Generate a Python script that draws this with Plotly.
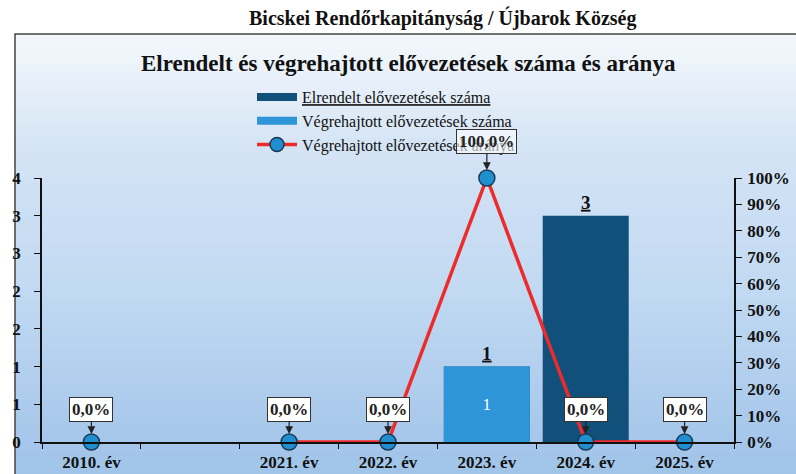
import plotly.graph_objects as go

# ---- data ----
categories = ["2010. év", " ", "2021. év", "2022. év", "2023. év", "2024. év", "2025. év"]
elrendelt = [0, None, 0, 0, 1, 3, 0]
vegrehajtott = [0, None, 0, 0, 1, 0, 0]
arany = [0.0, None, 0.0, 0.0, 1.0, 0.0, 0.0]
left_tickvals = [0, 0.5, 1, 1.5, 2, 2.5, 3, 3.5]
left_ticktext = ["0", "1", "1", "2", "2", "3", "3", "4"]
right_tickvals = [i / 10 for i in range(11)]
right_ticktext = [f"{i*10}%" for i in range(11)]

outer_title = "Bicskei Rendőrkapitányság / Újbarok Község"
chart_title = "Elrendelt és végrehajtott elővezetések száma és aránya"
name_elr = "Elrendelt elővezetések száma"
name_veg = "Végrehajtott elővezetések száma"
name_arany = "Végrehajtott elővezetések aránya"

W, H = 796, 474
ML, MR, MT, MB = 42, 62, 178, 32
PW, PH = W - ML - MR, H - MT - MB

def px(x):
    return (x - ML) / PW

def py(y):
    return (H - MB - y) / PH

SERIF = "Liberation Serif, Times New Roman, serif"
DARK = "#11507b"
LIGHT = "#2e95d8"
RED = "#ee2b2b"
TICKFONT = dict(family=SERIF, size=17, color="#111", weight="bold")

fig = go.Figure()

fig.add_trace(go.Bar(
    x=categories, y=elrendelt, name=name_elr, showlegend=False, legendgroup="elr",
    marker=dict(color=DARK, line=dict(width=0)),
    text=[f"<b><u>{v}</u></b>" if v else "" for v in elrendelt],
    textposition="outside", textfont=dict(family=SERIF, size=19, color="#111"),
    cliponaxis=False, width=0.87, yaxis="y",
))
fig.add_trace(go.Bar(
    x=categories, y=vegrehajtott, name=name_veg, showlegend=False, legendgroup="veg",
    marker=dict(color=LIGHT, line=dict(width=0)),
    text=[str(v) if v else "" for v in vegrehajtott],
    textposition="inside", insidetextanchor="middle",
    textfont=dict(family=SERIF, size=17, color="white"),
    width=0.87, yaxis="y",
))
fig.add_trace(go.Scatter(
    x=categories, y=arany, name=name_arany, showlegend=False, legendgroup="ar",
    mode="lines+markers", yaxis="y2", connectgaps=False, cliponaxis=False,
    line=dict(color=RED, width=3.5),
    marker=dict(size=16, color="#1f8fd0", line=dict(color="#1b3a55", width=1.5)),
))
# legend entries (wide flat bar swatches as in the reference)
fig.add_trace(go.Scatter(x=[None], y=[None], mode="lines", name=f"<u>{name_elr}</u>",
                         legendgroup="elr", line=dict(color=DARK, width=8)))
fig.add_trace(go.Scatter(x=[None], y=[None], mode="lines", name=name_veg,
                         legendgroup="veg", line=dict(color=LIGHT, width=8)))
fig.add_trace(go.Scatter(x=[None], y=[None], mode="lines+markers", name=name_arany,
                         legendgroup="ar", line=dict(color=RED, width=3.5),
                         marker=dict(size=14, color="#1f8fd0", line=dict(color="#1b3a55", width=1.5))))

shapes = []
stops = [(34, (244, 248, 252)), (150, (212, 228, 245)), (290, (193, 217, 242)), (474, (160, 195, 233))]

def col_at(y):
    for (y0, c0), (y1, c1) in zip(stops[:-1], stops[1:]):
        if y0 <= y <= y1:
            t = (y - y0) / (y1 - y0)
            return "rgb(%d,%d,%d)" % tuple(round(a + (b - a) * t) for a, b in zip(c0, c1))
    return "rgb(%d,%d,%d)" % stops[-1][1]

n = 60
step = (H + 6 - 34) / n
for i in range(n):
    y0 = 34 + i * step
    y1 = y0 + step + 0.6
    shapes.append(dict(type="rect", xref="paper", yref="paper", layer="below",
                       x0=px(15), x1=px(W + 10), y0=py(y1), y1=py(y0),
                       fillcolor=col_at(y0 + step / 2), line=dict(width=0)))
shapes.append(dict(type="rect", xref="paper", yref="paper", layer="below",
                   x0=px(15), x1=px(W + 10), y0=py(H + 10), y1=py(34),
                   fillcolor="rgba(0,0,0,0)", line=dict(color="#444", width=1.5)))

annotations = [
    dict(text=f"<b>{outer_title}</b>", xref="paper", yref="paper", x=px(442), y=py(18),
         showarrow=False, font=dict(family=SERIF, size=20, color="#111"), xanchor="center", yanchor="middle"),
    dict(text=f"<b>{chart_title}</b>", xref="paper", yref="paper", x=px(408), y=py(63),
         showarrow=False, font=dict(family=SERIF, size=23, color="#111"), xanchor="center", yanchor="middle"),
]
for c, v in zip(categories, arany):
    if v is None:
        continue
    label = f"{v*100:.1f}%".replace(".", ",")
    annotations.append(dict(
        x=c, y=v, xref="x", yref="y2", text=f"<b>{label}</b>", showarrow=True,
        ax=0, ay=-37 if v > 0.5 else -33, arrowhead=2, arrowsize=1.3, arrowwidth=1.2,
        arrowcolor="#222", standoff=8,
        font=dict(family=SERIF, size=17, color="#222"),
        bgcolor="rgba(255,255,255,0.6)" if v > 0.5 else "white",
        bordercolor="#333", borderwidth=1, borderpad=2,
    ))

fig.update_layout(
    width=W, height=H, margin=dict(l=ML, r=MR, t=MT, b=MB, autoexpand=False),
    paper_bgcolor="white", plot_bgcolor="rgba(0,0,0,0)",
    barmode="overlay", bargap=0.13,
    font=dict(family=SERIF, color="#111"),
    shapes=shapes, annotations=annotations,
    legend=dict(xref="container", yref="container", x=252 / W, y=1 - 80 / H,
                xanchor="left", yanchor="top",
                bgcolor="rgba(0,0,0,0)", font=dict(family=SERIF, size=16, color="#111"),
                itemwidth=40, tracegroupgap=0, traceorder="normal"),
    xaxis=dict(type="category", categoryorder="array", categoryarray=categories,
               showline=True, linecolor="#111", linewidth=1.5,
               ticks="outside", tickson="boundaries", ticklen=5, tickcolor="#111",
               tickfont=TICKFONT, automargin=False, ticklabelstandoff=4,
               showgrid=False, zeroline=False, range=[-0.5, 6.5]),
    yaxis=dict(range=[0, 3.5], tickvals=left_tickvals, ticktext=left_ticktext,
               showline=True, linecolor="#111", linewidth=1.5,
               ticks="outside", ticklen=6, tickcolor="#111", ticklabelstandoff=10,
               tickfont=TICKFONT, automargin=False,
               showgrid=False, zeroline=False),
    yaxis2=dict(range=[0, 1], overlaying="y", side="right",
                tickvals=right_tickvals, ticktext=right_ticktext,
                showline=True, linecolor="#111", linewidth=1.5,
                ticks="outside", ticklen=6, tickcolor="#111", ticklabelstandoff=2,
                tickfont=TICKFONT, automargin=False,
                showgrid=False, zeroline=False),
)

fig.write_html("out.html", config={"displayModeBar": False},
               post_script="document.body.style.margin='0';document.body.style.padding='0';")
